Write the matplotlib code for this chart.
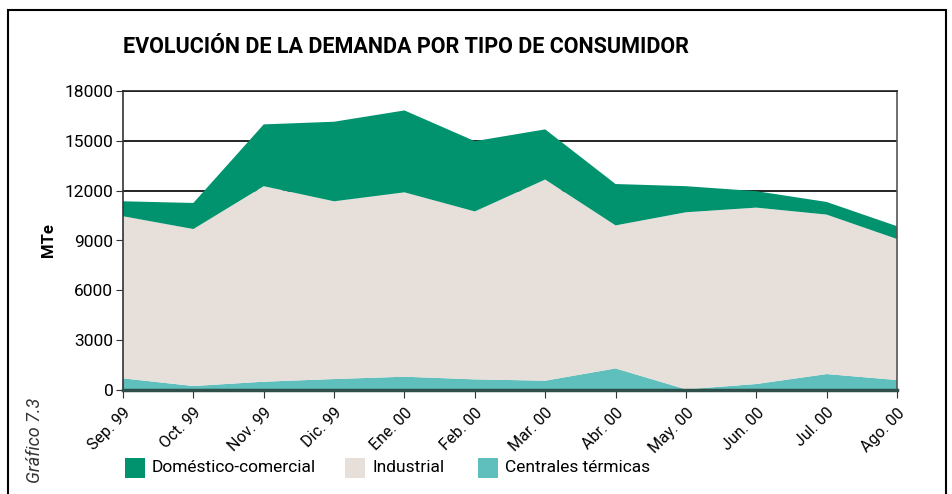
import matplotlib
matplotlib.use("Agg")
import matplotlib.pyplot as plt
from matplotlib.patches import Rectangle
import numpy as np

plt.rcParams['font.family'] = ['Roboto', 'DejaVu Sans']

# meses y valores (MTe)
meses = ['Sep. 99', 'Oct. 99', 'Nov. 99', 'Dic. 99', 'Ene. 00', 'Feb. 00',
         'Mar. 00', 'Abr. 00', 'May. 00', 'Jun. 00', 'Jul. 00', 'Ago. 00']
centrales = [700, 240, 500, 660, 800, 640, 560, 1300, 40, 360, 960, 600]
industrial = [9760, 9450, 11770, 10700, 11100, 10110, 12110, 8610, 10660, 10620, 9600, 8490]
domestico = [900, 1570, 3720, 4790, 4930, 4230, 3020, 2490, 1570, 990, 760, 770]

c_dom = '#00936e'
c_ind = '#e6dfda'
c_cen = '#5fbfbc'

fig = plt.figure(figsize=(9.52, 4.94), dpi=100)
ax = fig.add_axes([123/952, 1 - 390/494, (897-123)/952, (390-91)/494])

x = np.arange(len(meses))
ax.stackplot(x, centrales, industrial, domestico,
             colors=[c_cen, c_ind, c_dom], linewidth=0, zorder=2)

ax.set_xlim(0, len(meses) - 1)
ax.set_ylim(0, 18000)
ax.set_yticks(range(0, 18001, 3000))
ax.yaxis.grid(True, color='black', linewidth=1.2, zorder=1)
ax.set_axisbelow(True)

ax.set_xticks(x)
ax.set_xticklabels(meses, rotation=45, ha='right', rotation_mode='anchor',
                   fontsize=11.5)
ax.tick_params(axis='y', labelsize=12.5, length=5, color='#333333', pad=2)
ax.tick_params(axis='x', length=6, color='#333333', pad=5)

ax.spines['top'].set_color('#222222')
ax.spines['right'].set_color('#555555')
ax.spines['left'].set_color('#333333')
ax.spines['bottom'].set_color('#2e4f4a')
ax.spines['bottom'].set_linewidth(2.5)
for s in ['top', 'right', 'left']:
    ax.spines[s].set_linewidth(1.2)
    ax.spines[s].set_zorder(3)
ax.spines['bottom'].set_zorder(3)

ax.set_ylabel('MTe', fontsize=12, fontweight='bold', labelpad=6)

fig.text(123/952, 1 - 47/494, 'EVOLUCIÓN DE LA DEMANDA POR TIPO DE CONSUMIDOR',
         fontsize=15.5, fontweight='bold', va='center', ha='left')

fig.text(35/952, 1 - 440/494, 'Gráfico 7.3', rotation=90, style='italic',
         fontsize=13, color='#333333', va='center', ha='center')

# leyenda
items = [('Doméstico-comercial', c_dom, 125), ('Industrial', c_ind, 345),
         ('Centrales térmicas', c_cen, 478)]
for nombre, col, px in items:
    fig.patches.append(Rectangle((px/952, 1 - 478/494), 20/952, 20/494,
                                 transform=fig.transFigure, facecolor=col,
                                 edgecolor='none'))
    fig.text((px + 27)/952, 1 - 468/494, nombre, fontsize=12.5,
             va='center', ha='left')

# marco exterior
fig.patches.append(Rectangle((8/952, -0.05), (946-8)/952, 1 - 10/494 + 0.05,
                             transform=fig.transFigure, facecolor='none',
                             edgecolor='black', linewidth=1.5))

fig.savefig('out.png', dpi=100)
